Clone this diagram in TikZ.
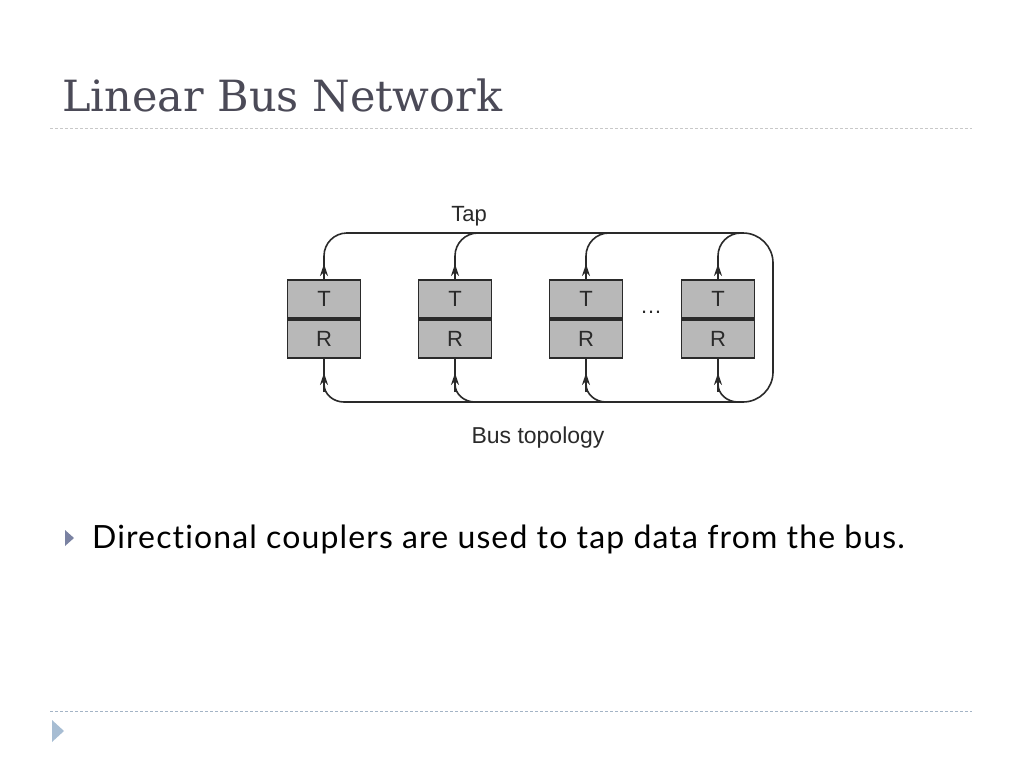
\documentclass[tikz,border=0pt]{standalone}
\usepackage{fontspec}
\setmainfont{DejaVu Serif}
\newfontfamily\bodyfont[LetterSpace=3.5,Ligatures=NoCommon]{Lato}
\newfontfamily\figfont{Liberation Sans}
\usetikzlibrary{arrows.meta}
\definecolor{titlegray}{HTML}{4B4A57}
\definecolor{rulegray}{HTML}{C8C8C8}
\definecolor{rulebot}{HTML}{A4B4C6}
\definecolor{bulletc}{HTML}{7A82A2}
\definecolor{bulletb}{HTML}{A7BDD3}
\definecolor{boxfill}{HTML}{B8B8B8}
\definecolor{ink}{HTML}{2A2A2A}
\tikzset{
  half/.style={draw=ink, line width=1.7pt, fill=boxfill, minimum width=73pt, minimum height=38pt, inner sep=0pt, font=\figfont\fontsize{22}{22}\selectfont, text=ink},
  bus/.style={draw=ink, line width=1.6pt},
  tip/.style={bus, -{Stealth[length=12pt,width=8pt]}},
  lbl/.style={font=\figfont\fontsize{22}{22}\selectfont, text=ink}
}
\begin{document}
\begin{tikzpicture}[x=1pt,y=-1pt]
\useasboundingbox (0,0) rectangle (1024,768);
% title and rules
\node[anchor=base west, inner sep=0pt, text=titlegray, font=\fontsize{43}{43}\selectfont] (title) at (62,111) {Linear Bus Network};
\draw[rulegray, line width=1pt, dash pattern=on 3pt off 2pt] (50,128) coordinate (r1a) -- (972,128) coordinate (r1b);
\draw[rulebot, line width=1pt, dash pattern=on 3pt off 2pt] (50,711) coordinate (r2a) -- (972,711) coordinate (r2b);
\fill[bulletb] (52,720) -- (64,731) -- (52,742) -- cycle;
% bullet text
\fill[bulletc] (65,530) -- (74,538) -- (65,546) -- cycle;
\node[anchor=base west, inner sep=0pt, font=\bodyfont\fontsize{32}{32}\selectfont, text=black] (bullet) at (92,548) {Directional couplers are used to tap data from the bus.};
% boxes
\foreach \i/\x in {1/324,2/455,3/586,4/718}{
  \node[half] (t\i) at (\x,299) {T};
  \node[half, anchor=north] (r\i) at (t\i.south) {R};
}
\node[lbl] (dots) at (651,312) {\dots};
\node[lbl] (tap) at (469,216) {Tap};
\node[lbl, font=\figfont\fontsize{23}{23}\selectfont] (topo) at (538,438) {Bus topology};
% outer bus
\coordinate (ts) at (346,233);
\coordinate (bs) at (344,402);
\coordinate (ce) at (773,233);
\coordinate (cf) at (773,402);
\draw[bus, rounded corners=30pt] (ts) -- (ce) -- (cf) -- (bs);
% taps
\foreach \i/\x in {1/324,2/455,3/586,4/718}{
  \draw[bus] (t\i.north) -- (\x,256) to[out=90,in=180] (\x+23,233);
  \draw[tip] (t\i.north) -- (\x,264);
  \draw[bus] (r\i.south) -- (\x,384) to[out=-90,in=180] (\x+20,402);
  \draw[tip] (\x,392) -- (\x,373);
}
\end{tikzpicture}
\end{document}
